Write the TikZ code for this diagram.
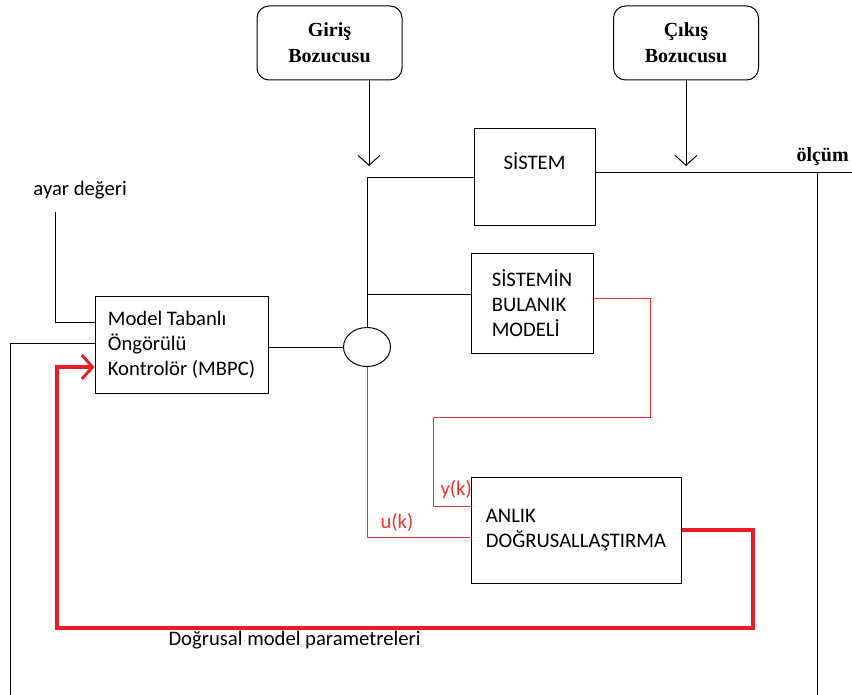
\documentclass[tikz,border=0pt]{standalone}
\usepackage{fontspec}
\setmainfont{Carlito}
\newfontfamily\titlefont{Liberation Serif}
\usetikzlibrary{positioning,arrows.meta,shapes.geometric,calc}
\definecolor{sigred}{RGB}{240,50,50}
\definecolor{parred}{RGB}{232,28,36}

\begin{document}
\begin{tikzpicture}[x=0.75pt, y=-0.75pt, line width=0.75pt,
  font=\fontsize{15.5}{18.75}\selectfont,
  box/.style={draw, rectangle, align=left, inner sep=0pt},
  dist/.style={draw, rounded corners=9pt, align=center, inner sep=0pt,
    minimum width=108.75pt, minimum height=55.5pt,
    font=\titlefont\bfseries\fontsize{15}{19.5}\selectfont},
  barb/.style={-{Straight Barb[length=7.5pt, width=16.5pt]}},
  sig/.style={draw=sigred},
  param/.style={draw=parred, line width=3pt,
    -{Straight Barb[length=8pt, width=18pt, line width=2.2pt]}},
  lbl/.style={inner sep=0pt, anchor=west}]
  \useasboundingbox (0,0) rectangle (852,695);
  % disturbances and plant
  \node[dist] (giris) at (329.5,43) {Giriş\\Bozucusu};
  \node[dist] (cikis) at (686,43)   {Çıkış\\Bozucusu};
  \node[box, align=center, minimum width=90.75pt, minimum height=72.75pt] (sistem) at (534.5,177.5) {SİSTEM\\[6pt]};
  \node[box, minimum width=91.5pt, minimum height=75pt] (model) at (532,303) {SİSTEMİN\\BULANIK\\MODELİ};
  \node[box, minimum width=129.75pt, minimum height=72.75pt] (mbpc) at (181.5,344.5) {Model Tabanlı\\Öngörülü\\Kontrolör (MBPC)};
  \node[draw, ellipse, inner sep=0pt, minimum width=35.25pt, minimum height=29.25pt] (sum) at (367,347) {};
  \node[box, minimum width=157.5pt, minimum height=79.5pt] (anlik) at (576,530) {ANLIK\\DOĞRUSALLAŞTIRMA};
  % texts
  \node[lbl] (ayar) at (33,190) {ayar değeri};
  \node[lbl, font=\titlefont\bfseries\fontsize{15}{18}\selectfont] (olcum) at (796,157) {ölçüm};
  \node[lbl, text=sigred] (yk) at (440,490) {y(k)};
  \node[lbl, text=sigred] (uk) at (380,522) {u(k)};
  \node[lbl] (dmp) at (168,640) {Doğrusal model parametreleri};
  % free ends
  \coordinate (gtip) at (369,166);
  \coordinate (ctip) at (686,166);
  \coordinate (j2) at (367,294);
  \coordinate (out) at (852,173);
  \coordinate (meas) at (817,173);
  \coordinate (mbot) at (817,695);
  \coordinate (sp) at (55,212);
  \coordinate (fb) at (10,695);
  \coordinate (yc) at (433,417);
  \coordinate (pbl) at (57,628);
  % black connectors
  \draw[barb] (gtip |- giris.south) -- (gtip);
  \draw[barb] (cikis.south) -- (ctip);
  \draw (sistem.west) -- (sistem.west -| sum.north) -- (sum.north);
  \draw (j2) -- (j2 -| model.west);
  \draw (mbpc.east |- sum.west) -- (sum.west);
  \draw (sistem.east |- out) -- (out);
  \draw (meas) -- (mbot);
  \draw (sp) |- ($(mbpc.west)+(0,-22.5)$);
  \draw (fb) |- ($(mbpc.west)+(0,-1.5)$);
  % red signals
  \draw[sig] ($(model.east)+(0,-5)$) -- ++(57,0) |- (yc) |- ($(anlik.west)+(0,-24)$);
  \draw[sig] (sum.south) |- ($(anlik.west)+(0,7)$);
  \draw[param] (anlik.east) -- ++(71,0) |- (pbl) |- ($(mbpc.west)+(0,22.5)$);
\end{tikzpicture}
\end{document}
